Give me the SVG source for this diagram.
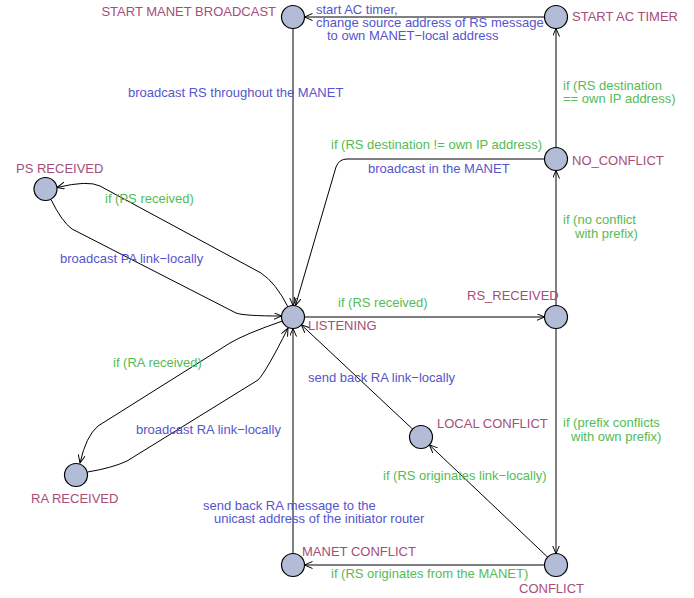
<svg xmlns="http://www.w3.org/2000/svg" width="694" height="598" viewBox="0 0 694 598">
<style>
text{font-family:"Liberation Sans",Arial,sans-serif;font-size:13px}
.n{fill:#a64d79}
.g{fill:#55bb55}
.b{fill:#5555cc}
.node circle{fill:#b3bcd6;stroke:#000;stroke-width:1.2}
.e{fill:none;stroke:#000;stroke-width:1;marker-end:url(#ah)}
</style>
<defs>
<marker id="ah" markerUnits="userSpaceOnUse" markerWidth="10" markerHeight="8" refX="8" refY="3.5" orient="auto">
<path d="M0,0 L8,3.5 L0,7" fill="none" stroke="#000" stroke-width="1"/>
</marker>
</defs>
<rect width="694" height="598" fill="#fff"/>
<g id="connectors">
<path class="e" d="M544.5,17 L304.5,17"/>
<path class="e" d="M293,28.5 L293,305.5"/>
<path class="e" d="M556,147.5 L556,28.5"/>
<path class="e" d="M544.5,159 L347,159 Q339,159 336,167 L295.5,305.5"/>
<path class="e" d="M556,305.5 L556,170.5"/>
<path class="e" d="M304.5,317 L544.5,317"/>
<path class="e" d="M556,328.5 L556,553.5"/>
<path class="e" d="M544.5,565 L304.5,565"/>
<path class="e" d="M547.6,557.1 L429.4,444.9"/>
<path class="e" d="M412.6,429.1 L301.4,324.9"/>
<path class="e" d="M293,553.5 L293,328.5"/>
<path class="e" d="M288,307 Q276,283 261,273 L100,186 Q88,180 57,187.5"/>
<path class="e" d="M51,199.5 Q62,222 72,229 L236,313 Q244,316 281.5,316"/>
<path class="e" d="M282.5,321 Q245,334 230,343 L98,426 Q86,436 80,463"/>
<path class="e" d="M87.5,472 Q112,468 127,461 L258,380 Q266,372 288,328"/>
</g>
<g id="edge-labels">
<text class="b" x="316" y="14">start AC timer,</text>
<text class="b" x="316" y="27">change source address of RS message</text>
<text class="b" x="327" y="40">to own MANET−local address</text>
<text class="b" x="128" y="97">broadcast RS throughout the MANET</text>
<text class="g" x="563" y="90">if (RS destination</text>
<text class="g" x="563" y="103">== own IP address)</text>
<text class="g" x="331" y="149">if (RS destination != own IP address)</text>
<text class="b" x="368" y="173">broadcast in the MANET</text>
<text class="g" x="563" y="224">if (no conflict</text>
<text class="g" x="575" y="238">with prefix)</text>
<text class="g" x="338" y="307">if (RS received)</text>
<text class="g" x="105" y="203">if (PS received)</text>
<text class="b" x="60" y="263">broadcast PA link−locally</text>
<text class="g" x="113" y="367">if (RA received)</text>
<text class="b" x="136" y="434">broadcast RA link−locally</text>
<text class="b" x="308" y="382">send back RA link−locally</text>
<text class="g" x="563" y="427">if (prefix conflicts</text>
<text class="g" x="571" y="441">with own prefix)</text>
<text class="g" x="383" y="480">if (RS originates link−locally)</text>
<text class="b" x="203" y="510">send back RA message to the</text>
<text class="b" x="214" y="523">unicast address of the initiator router</text>
<text class="g" x="331" y="578">if (RS originates from the MANET)</text>
</g>
<g id="start-manet-broadcast" class="node"><circle cx="293" cy="17" r="11.5"/><text class="n" x="276" y="16" text-anchor="end">START MANET BROADCAST</text></g>
<g id="start-ac-timer" class="node"><circle cx="556" cy="17" r="11.5"/><text class="n" x="572" y="21">START AC TIMER</text></g>
<g id="no-conflict" class="node"><circle cx="556" cy="159" r="11.5"/><text class="n" x="572" y="165">NO_CONFLICT</text></g>
<g id="rs-received" class="node"><circle cx="556" cy="317" r="11.5"/><text class="n" x="467" y="300">RS_RECEIVED</text></g>
<g id="listening" class="node"><circle cx="293" cy="317" r="11.5"/><text class="n" x="308" y="330">LISTENING</text></g>
<g id="ps-received" class="node"><circle cx="45.5" cy="189" r="11.5"/><text class="n" x="16" y="173">PS RECEIVED</text></g>
<g id="ra-received" class="node"><circle cx="76" cy="475" r="11.5"/><text class="n" x="31" y="503">RA RECEIVED</text></g>
<g id="local-conflict" class="node"><circle cx="421" cy="437" r="11.5"/><text class="n" x="437" y="428">LOCAL CONFLICT</text></g>
<g id="manet-conflict" class="node"><circle cx="293" cy="565" r="11.5"/><text class="n" x="302" y="556">MANET CONFLICT</text></g>
<g id="conflict" class="node"><circle cx="556" cy="565" r="11.5"/><text class="n" x="519" y="593">CONFLICT</text></g>
</svg>
